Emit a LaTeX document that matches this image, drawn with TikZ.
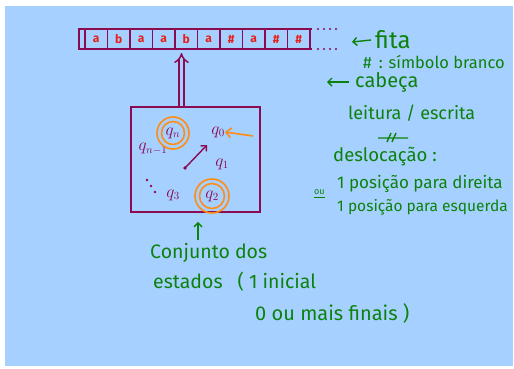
\documentclass[tikz,border=0pt]{standalone}
\usepackage{fontspec}
\setmainfont{Fira Sans}
\usetikzlibrary{arrows.meta}
\definecolor{fundo}{RGB}{166,208,255}
\definecolor{vinho}{RGB}{140,10,80}
\definecolor{letra}{RGB}{232,32,28}
\definecolor{verde}{RGB}{12,130,12}
\definecolor{laranja}{RGB}{255,140,20}
\tikzset{
 celula/.style={draw=vinho,line width=1.6pt,minimum width=22.5pt,minimum height=20pt,inner sep=0pt,text=letra,font=\bfseries\fontsize{12}{12}\selectfont},
 estado/.style={text=vinho,inner sep=0pt,font=\fontsize{16}{16}\selectfont},
 nota/.style={text=verde,anchor=west,inner sep=0pt},
 seta/.style={verde,line width=1.4pt,-{Straight Barb[length=4pt,width=8pt]}},
}
\begin{document}
\begin{tikzpicture}[x=1pt,y=-1pt]
 \useasboundingbox (0,0) rectangle (514,368);
 \fill[white] (0,0) rectangle (514,368); \fill[fundo] (5,6) rectangle (513,366);
 % fita
 \draw[vinho,line width=1.6pt] (312,29) -- (79,29) -- (79,49) -- (312,49);
 \foreach \s [count=\i] in {a,b,a,a,b,a,\#,a,\#,\#}{\node[celula] (c\i) at ({73.75+22.5*\i},39) {\s};}
 \foreach \x in {318,324,330,336}{\fill[vinho] (\x,29) circle (1.2pt); \fill[vinho] (\x,49) circle (1.2pt);}
 % estados
 \node[draw=vinho,line width=1.6pt,minimum width=129pt,minimum height=105pt] (caixa) at (195.5,159.5) {};
 \coordinate (cab) at (181.5,53);
 \draw[vinho,line width=1.5pt,double=fundo,double distance=3.5pt,-Implies] (caixa.north -| cab) -- (cab);
 \node[estado] (qn) at (173,133) {$q_n$}; \node[estado] (q0) at (218,132) {$q_0$};
 \node[estado] (qn1) at (153,149) {$q_{n-1}$}; \node[estado] (q1) at (222,164) {$q_1$};
 \node[estado] (q3) at (173,195) {$q_3$}; \node[estado] (q2) at (212,196) {$q_2$};
 \draw[laranja,line width=1.6pt] (qn) circle (16pt) (qn) circle (11.5pt) (q2) circle (17pt) (q2) circle (12.5pt);
 \coordinate (ini) at (185,168); \coordinate (fim) at (207,145);
 \fill[vinho] (ini) circle (1.8pt); \draw[vinho,line width=1.4pt,-{Straight Barb[length=4pt,width=8pt]}] (ini) -- (fim);
 \foreach \x/\y in {147/180,151/186,155/192}{\fill[vinho] (\x,\y) circle (1.3pt);}
 \coordinate (lar) at (253,136);
 \draw[laranja,line width=1.6pt,-{Straight Barb[length=5pt,width=10pt]}] (lar) -- (q0.east);
 % legendas
 \node[nota,font=\fontsize{24}{24}\selectfont] (fita) at (375,40) {fita};
 \coordinate (fitaponta) at (352,42); \draw[seta] ([xshift=-4pt]fita.west) -- (fitaponta);
 \node[nota,font=\fontsize{16.5}{16.5}\selectfont] (branco) at (363,62) {\# \,: símbolo branco};
 \node[nota,font=\fontsize{20}{20}\selectfont] (cabeca) at (355,82) {cabeça};
 \coordinate (cabponta) at (327,82); \draw[seta] ([xshift=-6pt]cabeca.west) -- (cabponta);
 \node[nota,font=\fontsize{18}{18}\selectfont] (leitura) at (348,113) {leitura / escrita};
 \draw[verde,line width=1.4pt] (378,138) -- (408,138) (387,142) -- (391,133) (392,142) -- (396,133);
 \node[nota,font=\fontsize{18.5}{18.5}\selectfont] (desloc) at (333,157) {deslocação :};
 \node[nota,font=\fontsize{17}{17}\selectfont] (direita) at (337,184) {1 posição para direita};
 \node[nota,font=\fontsize{9}{9}\selectfont] (ou) at (314,192) {ou};
 \draw[verde,line width=1.2pt] (ou.south west) ++(0,3) -- ++(11,0);
 \node[nota,font=\fontsize{15.5}{15.5}\selectfont] (esquerda) at (337,207) {1 posição para esquerda};
 \node[nota,font=\fontsize{19.5}{19.5}\selectfont] (conj) at (150,253) {Conjunto dos};
 \node[nota,font=\fontsize{19.5}{19.5}\selectfont] (est) at (153,282) {estados \enspace( 1 inicial};
 \node[nota,font=\fontsize{20}{20}\selectfont] (finais) at (255,313) {0 ou mais finais )};
 \coordinate (pe) at (198,240);
 \draw[seta] (pe) -- (caixa.south -| pe) [shorten >=9pt];
\end{tikzpicture}
\end{document}
